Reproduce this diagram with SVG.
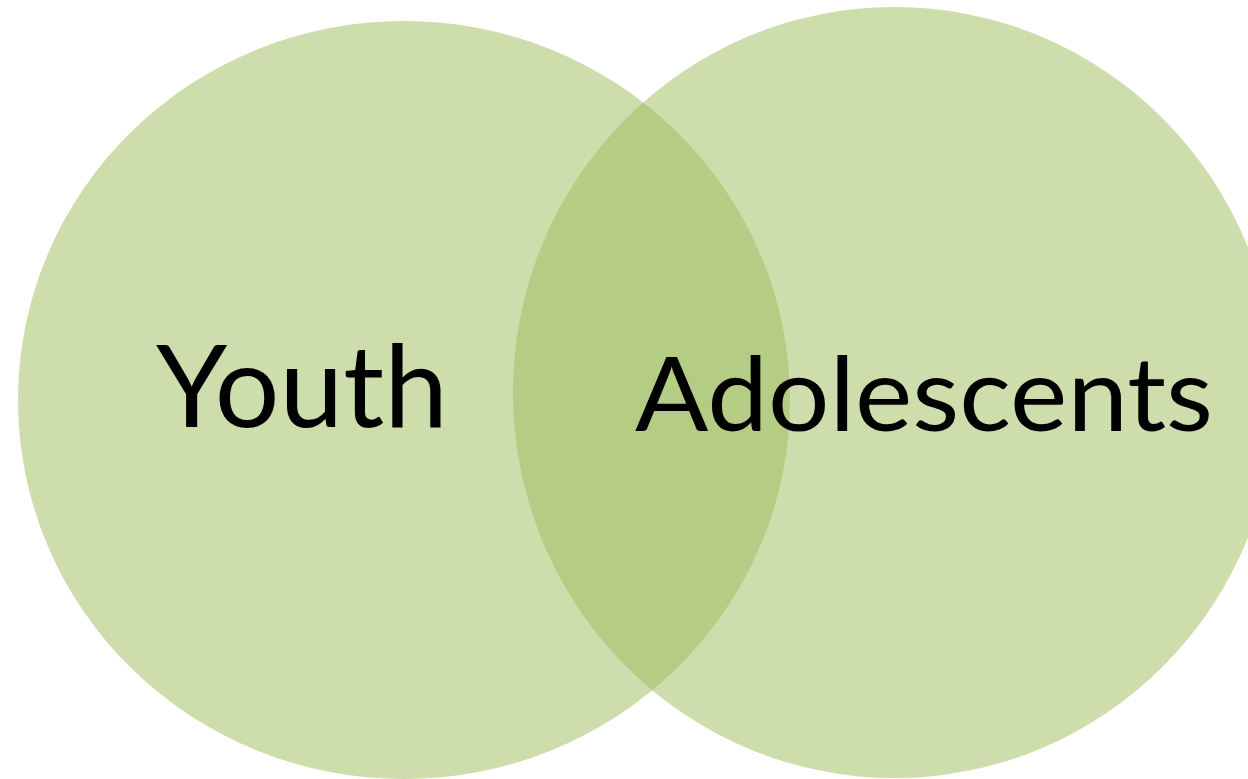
<svg xmlns="http://www.w3.org/2000/svg" width="1248" height="779" viewBox="0 0 1248 779">
  <style>
    .set { fill: #9BBB59; fill-opacity: 0.5; }
    .label { font-family: Lato, "Open Sans", "Liberation Sans", sans-serif; fill: #000000; }
  </style>
  <rect width="1248" height="779" fill="#FFFFFF"/>
  <g id="youth">
    <ellipse class="set" cx="404" cy="400" rx="386" ry="379"/>
    <text class="label" x="156" y="427" font-size="114" textLength="292" lengthAdjust="spacingAndGlyphs">Youth</text>
  </g>
  <g id="adolescents">
    <ellipse class="set" cx="894.5" cy="392.5" rx="381.5" ry="385.5"/>
    <text class="label" x="635" y="431" font-size="102" textLength="578" lengthAdjust="spacingAndGlyphs">Adolescents</text>
  </g>
  <g id="connectors"/>
</svg>
